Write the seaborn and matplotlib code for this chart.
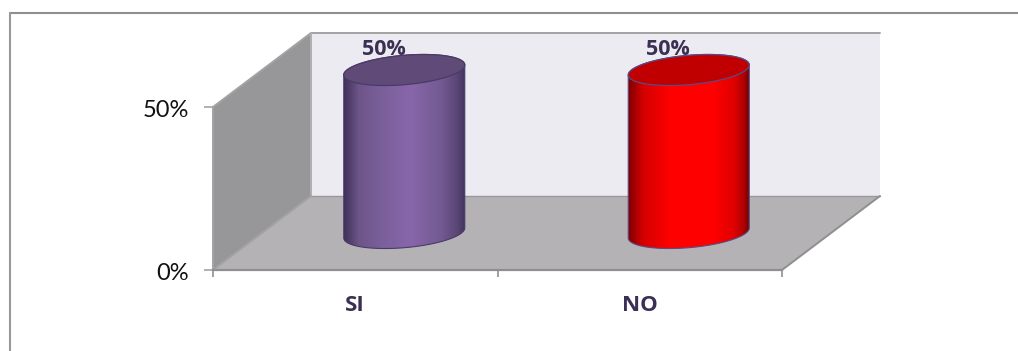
import numpy as np
import pandas as pd
import matplotlib
matplotlib.use("Agg")
import matplotlib.pyplot as plt
from matplotlib.patches import Polygon, PathPatch
from matplotlib.path import Path
from matplotlib.colors import LinearSegmentedColormap
from matplotlib.lines import Line2D
from matplotlib.transforms import ScaledTranslation
import seaborn as sns

categories = ["SI", "NO"]
values = [0.5, 0.5]
value_labels = ["50%", "50%"]
y_ticks = [0.0, 0.5]
y_tick_labels = ["0%", "50%"]
body_colors = [[(0, "#3f3159"), (.12, "#6d5589"), (.3, "#7a5f9a"), (.55, "#8866aa"), (.8, "#735a92"), (.93, "#5a4676"), (1, "#3f3159")],
               [(0, "#7d0000"), (.12, "#d40000"), (.35, "#ff0000"), (.7, "#ff0000"), (.87, "#e00000"), (.95, "#b00000"), (1, "#6d0000")]]
top_colors = ["#604a78", "#c00000"]
edge_colors = ["#4a3a66", "#5a4a85"]

W, H = 1018, 351
sns.set_theme(style="white")
plt.rcParams["font.family"] = ["Lato", "DejaVu Sans"]

fig = plt.figure(figsize=(W / 100, H / 100), dpi=100, facecolor="white")
L, R, B, T = 213, 782, 270, 107
ax = fig.add_axes([L / W, 1 - B / H, (R - L) / W, (B - T) / H])

df = pd.DataFrame({"cat": categories, "val": values})
sns.barplot(data=df, x="cat", y="val", ax=ax, width=0.425, legend=False, color="white")
bars = list(ax.patches)
ax.set_xlim(-0.5, 1.5)
ax.set_ylim(0, 0.5)
ax.set(xlabel="", ylabel="")

# depth of the 3D box, in data units
DX, DY = 98 / 284.5, 74 / 326
x0, x1, ytop = -0.5, 1.5, 0.5
GREY = "#8f8f8f"
def poly(pts, fc, z):
    ax.add_patch(Polygon(pts, closed=True, fc=fc, ec="none", clip_on=False, zorder=z))
poly([(x0 + DX, 0 + DY), (x1 + DX, DY), (x1 + DX, ytop + DY), (x0 + DX, ytop + DY)], "#ecebf1", 0.5)
poly([(x0, 0), (x0 + DX, DY), (x0 + DX, ytop + DY), (x0, ytop)], "#979699", 0.6)
poly([(x0, 0), (x1, 0), (x1 + DX, DY), (x0 + DX, DY)], "#b5b2b6", 0.7)
def seg(xs, ys, c=GREY, lw=1.4, z=0.9):
    ax.add_line(Line2D(xs, ys, color=c, lw=lw, clip_on=False, zorder=z))
seg([x0 + DX, x1 + DX], [ytop + DY, ytop + DY], "#a3a3a3")
seg([x0, x0 + DX], [ytop, ytop + DY], "#a3a3a3")
seg([x0, x0], [0, ytop], "#a3a3a3")
seg([x0 + DX, x0 + DX], [DY, ytop + DY], "#b0b0b0")
seg([x0 + DX, x1 + DX], [DY, DY], "#999999", 1.0)
seg([x0, x0 + DX], [0, DY], "#a3a3a3")
seg([x1, x1 + DX], [0, DY], GREY)

# cylinders, built from the bars seaborn placed
A = 0.2127
C = 5 / 326
Bb = 14.7 / 326
t = np.linspace(0, 2 * np.pi, 181)
for i, bar in enumerate(bars):
    bar.set_visible(False)
    cx = bar.get_x() + bar.get_width() / 2 + DX / 2
    y0 = DY / 2
    y1 = bar.get_height() + DY / 2
    tt = np.linspace(0, np.pi, 91)
    low_x = cx + A * np.cos(tt)
    low_off = -Bb * np.sin(tt) + C * np.cos(tt)
    verts = np.r_[np.c_[low_x, y0 + low_off],
                  np.c_[cx + A * np.cos(tt[::-1]), y1 + (Bb * np.sin(tt[::-1]) + C * np.cos(tt[::-1]))]]
    path = Path(np.r_[verts, verts[:1]], closed=True)
    cmap = LinearSegmentedColormap.from_list("c", body_colors[i])
    im = ax.imshow(np.linspace(0, 1, 256)[None, :], cmap=cmap, aspect="auto",
                   extent=(cx - A, cx + A, y0 - 0.1, y1 + 0.1), zorder=3)
    patch = PathPatch(path, transform=ax.transData, fc="none", ec="none", clip_on=False)
    ax.add_patch(patch)
    im.set_clip_path(patch)
    im.set_clip_box(fig.bbox)
    ax.add_patch(PathPatch(path, fc="none", ec=edge_colors[i], lw=0.8, clip_on=False, zorder=3.2))
    ell = np.c_[cx + A * np.cos(t), y1 + Bb * np.sin(t) + C * np.cos(t)]
    ax.add_patch(Polygon(ell, closed=True, fc=top_colors[i], ec=edge_colors[i], lw=0.9,
                         clip_on=False, zorder=3.4))
    ax.text(bar.get_x() + bar.get_width() / 2 + 0.10, y1 + 0.0625, value_labels[i], ha="center", va="center",
            fontsize=15.5, fontweight="bold", family="Open Sans", color="#3b3054", zorder=2)

ax.set_xlim(-0.5, 1.5)
ax.set_ylim(0, 0.5)
for s in ("top", "right", "left"):
    ax.spines[s].set_visible(False)
ax.spines["bottom"].set_color(GREY)
ax.spines["bottom"].set_linewidth(1.6)
ax.spines["bottom"].set_zorder(1)
ax.set_xticks([0, 1], categories)
ax.set_xticks([-0.5, 0.5, 1.5], minor=True)
ax.set_yticks(y_ticks, y_tick_labels)
ax.tick_params(axis="x", which="major", length=0, pad=18, labelsize=16, labelcolor="#3b3054")
for lab in ax.get_xticklabels():
    lab.set_fontweight("bold")
    lab.set_family("Open Sans")
ax.tick_params(axis="x", which="minor", length=5, width=1.2, color=GREY, bottom=True)
ax.tick_params(axis="y", length=6.5, width=1.2, color="#a3a3a3", pad=11, labelsize=17, labelcolor="#111111", left=True)
shift = ScaledTranslation(0, -1.5 / 100, fig.dpi_scale_trans)
for lab in ax.get_yticklabels():
    lab.set_transform(lab.get_transform() + shift)

# outer frame: top and left rules only
fig.add_artist(Line2D([9.5 / W, 1], [1 - 12.5 / H] * 2, color="#8f8f8f", lw=1.5))
fig.add_artist(Line2D([9.5 / W] * 2, [1 - 12.5 / H, 0], color="#999999", lw=1.5))

fig.savefig("out.png", dpi=100, facecolor="white")
